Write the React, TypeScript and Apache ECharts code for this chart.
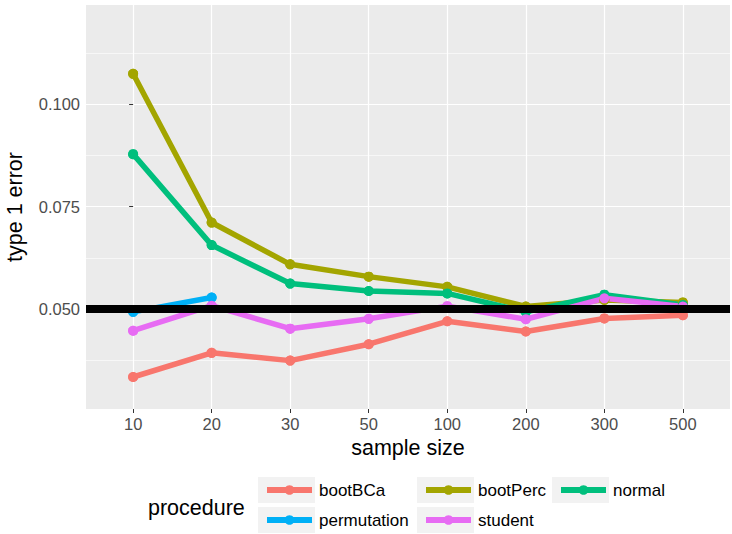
import React, { useEffect, useRef } from 'react';
import * as echarts from 'echarts';

const sampleSizes = ['10', '20', '30', '50', '100', '200', '300', '500'];
const bootBCa = [0.0334, 0.0393, 0.0374, 0.0414, 0.047, 0.0445, 0.0477, 0.0485];
const bootPerc = [0.1074, 0.0711, 0.0609, 0.0579, 0.0554, 0.0506, 0.0522, 0.0516];
const normal = [0.0878, 0.0656, 0.0562, 0.0544, 0.0538, 0.0493, 0.0535, 0.051];
const permutation = [0.0493, 0.0528];
const student = [0.0447, 0.0508, 0.0452, 0.0476, 0.0507, 0.0475, 0.0526, 0.0506];
const yMajorTicks = [0.05, 0.075, 0.1];
const yMinorTicks = [0.0375, 0.0625, 0.0875, 0.1125];
const referenceLevel = 0.05;

const procedures = [
  { name: 'bootBCa', values: bootBCa, color: '#F8766D' },
  { name: 'bootPerc', values: bootPerc, color: '#A3A500' },
  { name: 'normal', values: normal, color: '#00BF7D' },
  { name: 'permutation', values: permutation, color: '#00B0F6' },
  { name: 'student', values: student, color: '#E76BF3' },
];

// legend cell layout (key box left, row top)
const legendCells: Record<string, [number, number]> = {
  bootBCa: [258, 477],
  permutation: [258, 507],
  bootPerc: [417, 477],
  student: [417, 507],
  normal: [552, 477],
};

const FONT = "'Liberation Sans', Arial, Helvetica, sans-serif";
const Y_MIN = 0.02559;
const Y_MAX = 0.1242;

export default function App() {
  const ref = useRef<HTMLDivElement>(null);
  useEffect(() => {
    if (!ref.current) return;
    const chart = echarts.init(ref.current, undefined, { renderer: 'svg' });
    const xIdx = sampleSizes.map((_, i) => i);
    const lineSeries: any[] = procedures.map((p) => ({
      type: 'line',
      name: p.name,
      data: p.values.map((v, i) => [i, v]),
      symbol: 'circle',
      symbolSize: 10,
      showSymbol: true,
      lineStyle: { color: p.color, width: 5.5 },
      itemStyle: { color: p.color },
      color: p.color,
      z: 3,
      silent: true,
    }));
    const pointSeries: any[] = procedures.map((p) => ({
      type: 'scatter',
      name: 'pts-' + p.name,
      data: p.values.map((v, i) => [i, v]),
      symbol: 'circle',
      symbolSize: 10,
      itemStyle: { color: p.color, opacity: 1 },
      z: 4,
      silent: true,
    }));
    const refSeries = {
      type: 'line',
      name: 'ref',
      data: [],
      z: 2,
      silent: true,
      markLine: {
        silent: true,
        symbol: ['none', 'none'],
        label: { show: false },
        lineStyle: { color: '#000000', width: 8, type: 'solid' },
        data: [{ yAxis: referenceLevel }],
        animation: false,
      },
    };
    const legends = procedures.map((p) => {
      const [bx, by] = legendCells[p.name];
      return {
        orient: 'horizontal',
        left: bx + 6,
        top: by + 3,
        padding: 0,
        itemWidth: 45,
        itemHeight: 12,
        selectedMode: false,
        data: [p.name],
        lineStyle: { width: 6, color: p.color },
        textStyle: {
          fontFamily: FONT,
          fontSize: 17,
          color: '#000000',
          lineHeight: 20,
          padding: [0, 0, 0, 2],
        },
      };
    });
    const keyRects = procedures.map((p) => {
      const [x, y] = legendCells[p.name];
      return {
        type: 'rect',
        shape: { x, y, width: 57, height: 26 },
        style: { fill: '#F2F2F2' },
        z: 0,
        silent: true,
      };
    });
    chart.setOption({
      animation: false,
      grid: {
        left: 86,
        top: 5,
        right: 2,
        bottom: 125,
        show: true,
        backgroundColor: '#EBEBEB',
        borderWidth: 0,
        containLabel: false,
        outerBoundsMode: 'none',
      },
      xAxis: {
        type: 'value',
        min: -0.6,
        max: 7.6,
        name: 'sample size',
        nameLocation: 'middle',
        nameGap: 25,
        nameTextStyle: { fontFamily: FONT, fontSize: 21.5, color: '#000000' },
        axisLine: { show: false },
        axisTick: { show: true, length: 4, customValues: xIdx, lineStyle: { color: '#333333', width: 1 } },
        axisLabel: {
          customValues: xIdx,
          margin: 6,
          fontFamily: FONT,
          fontSize: 16.5,
          color: '#4D4D4D',
          formatter: (v: number) => sampleSizes[Math.round(v)] ?? '',
        },
        splitLine: { show: true, lineStyle: { color: '#FFFFFF', width: 1.2 } },
      },
      yAxis: [
        {
          type: 'value',
          min: Y_MIN,
          max: Y_MAX,
          name: 'type 1 error',
          nameLocation: 'middle',
          nameGap: 60,
          nameTextStyle: { fontFamily: FONT, fontSize: 21.5, color: '#000000' },
          axisLine: { show: false },
          axisTick: { show: true, length: 4, customValues: yMajorTicks, lineStyle: { color: '#333333', width: 1 } },
          axisLabel: {
            customValues: yMajorTicks,
            margin: 6,
            fontFamily: FONT,
            fontSize: 16.5,
            color: '#4D4D4D',
            formatter: (v: number) => v.toFixed(3),
          },
          splitLine: { show: true, lineStyle: { color: '#FFFFFF', width: 1.2 } },
        },
        {
          type: 'value',
          min: Y_MIN,
          max: Y_MAX,
          position: 'left',
          axisLine: { show: false },
          axisTick: { show: false, customValues: yMinorTicks },
          axisLabel: { show: false, customValues: yMinorTicks },
          splitLine: { show: true, lineStyle: { color: '#FFFFFF', width: 0.6 } },
        },
      ],
      legend: legends,
      graphic: [
        ...keyRects,
        {
          type: 'text',
          x: 148,
          y: 508,
          silent: true,
          style: {
            text: 'procedure',
            fontFamily: FONT,
            fontSize: 21.5,
            fill: '#000000',
            verticalAlign: 'middle',
            align: 'left',
          },
        },
      ],
      series: [refSeries, ...lineSeries, ...pointSeries],
    });
    return () => chart.dispose();
  }, []);
  return (
    <div
      ref={ref}
      style={{ position: 'absolute', left: 0, top: 0, width: 732, height: 534, background: '#FFFFFF' }}
    />
  );
}
